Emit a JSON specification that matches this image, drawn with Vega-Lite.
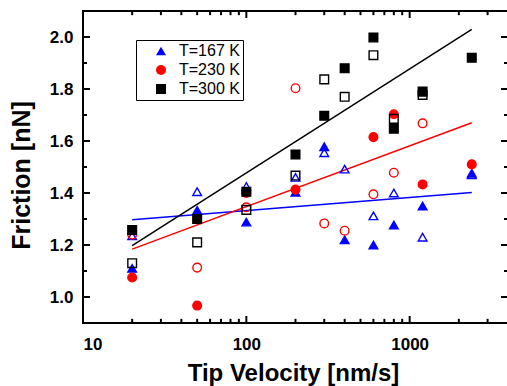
{
  "$schema": "https://vega.github.io/schema/vega-lite/v6.json",
  "width": 425,
  "height": 312,
  "autosize": {"type": "none"},
  "padding": {"left": 83, "top": 11, "right": 0, "bottom": 63},
  "background": "white",
  "view": {"stroke": "black", "strokeWidth": 2},
  "config": {
    "font": "Liberation Sans",
    "axis": {"grid": false, "labelColor": "black", "titleColor": "black"}
  },
  "datasets": {
    "points": [
      {"T": "T=167 K", "type": "filled", "v": 20, "f": 1.11},
      {"T": "T=167 K", "type": "filled", "v": 50, "f": 1.333},
      {"T": "T=167 K", "type": "filled", "v": 100, "f": 1.288},
      {"T": "T=167 K", "type": "filled", "v": 200, "f": 1.403},
      {"T": "T=167 K", "type": "filled", "v": 300, "f": 1.578},
      {"T": "T=167 K", "type": "filled", "v": 400, "f": 1.22},
      {"T": "T=167 K", "type": "filled", "v": 600, "f": 1.2},
      {"T": "T=167 K", "type": "filled", "v": 800, "f": 1.277},
      {"T": "T=167 K", "type": "filled", "v": 1200, "f": 1.35},
      {"T": "T=167 K", "type": "filled", "v": 2400, "f": 1.476},
      {"T": "T=167 K", "type": "open", "v": 20, "f": 1.235},
      {"T": "T=167 K", "type": "open", "v": 50, "f": 1.405},
      {"T": "T=167 K", "type": "open", "v": 100, "f": 1.425},
      {"T": "T=167 K", "type": "open", "v": 200, "f": 1.46},
      {"T": "T=167 K", "type": "open", "v": 300, "f": 1.555},
      {"T": "T=167 K", "type": "open", "v": 400, "f": 1.492},
      {"T": "T=167 K", "type": "open", "v": 600, "f": 1.312},
      {"T": "T=167 K", "type": "open", "v": 800, "f": 1.4},
      {"T": "T=167 K", "type": "open", "v": 1200, "f": 1.23},
      {"T": "T=167 K", "type": "open", "v": 2400, "f": 1.47},
      {"T": "T=230 K", "type": "filled", "v": 20, "f": 1.075},
      {"T": "T=230 K", "type": "filled", "v": 50, "f": 0.967},
      {"T": "T=230 K", "type": "filled", "v": 100, "f": 1.4},
      {"T": "T=230 K", "type": "filled", "v": 200, "f": 1.413},
      {"T": "T=230 K", "type": "filled", "v": 600, "f": 1.615},
      {"T": "T=230 K", "type": "filled", "v": 800, "f": 1.703},
      {"T": "T=230 K", "type": "filled", "v": 1200, "f": 1.433},
      {"T": "T=230 K", "type": "filled", "v": 2400, "f": 1.51},
      {"T": "T=230 K", "type": "open", "v": 20, "f": 1.24},
      {"T": "T=230 K", "type": "open", "v": 50, "f": 1.113},
      {"T": "T=230 K", "type": "open", "v": 100, "f": 1.345},
      {"T": "T=230 K", "type": "open", "v": 200, "f": 1.803},
      {"T": "T=230 K", "type": "open", "v": 300, "f": 1.283},
      {"T": "T=230 K", "type": "open", "v": 400, "f": 1.255},
      {"T": "T=230 K", "type": "open", "v": 600, "f": 1.395},
      {"T": "T=230 K", "type": "open", "v": 800, "f": 1.478},
      {"T": "T=230 K", "type": "open", "v": 1200, "f": 1.668},
      {"T": "T=300 K", "type": "filled", "v": 20, "f": 1.258},
      {"T": "T=300 K", "type": "filled", "v": 50, "f": 1.3},
      {"T": "T=300 K", "type": "filled", "v": 100, "f": 1.405},
      {"T": "T=300 K", "type": "filled", "v": 200, "f": 1.548},
      {"T": "T=300 K", "type": "filled", "v": 300, "f": 1.697},
      {"T": "T=300 K", "type": "filled", "v": 400, "f": 1.88},
      {"T": "T=300 K", "type": "filled", "v": 600, "f": 1.998},
      {"T": "T=300 K", "type": "filled", "v": 800, "f": 1.647},
      {"T": "T=300 K", "type": "filled", "v": 1200, "f": 1.79},
      {"T": "T=300 K", "type": "filled", "v": 2400, "f": 1.92},
      {"T": "T=300 K", "type": "open", "v": 20, "f": 1.13},
      {"T": "T=300 K", "type": "open", "v": 50, "f": 1.21},
      {"T": "T=300 K", "type": "open", "v": 100, "f": 1.335},
      {"T": "T=300 K", "type": "open", "v": 200, "f": 1.467},
      {"T": "T=300 K", "type": "open", "v": 300, "f": 1.837},
      {"T": "T=300 K", "type": "open", "v": 400, "f": 1.77},
      {"T": "T=300 K", "type": "open", "v": 600, "f": 1.93},
      {"T": "T=300 K", "type": "open", "v": 800, "f": 1.685},
      {"T": "T=300 K", "type": "open", "v": 1200, "f": 1.777}
    ],
    "fits": [
      {"T": "T=167 K", "v": 20, "f": 1.297},
      {"T": "T=167 K", "v": 2400, "f": 1.402},
      {"T": "T=230 K", "v": 20, "f": 1.184},
      {"T": "T=230 K", "v": 2400, "f": 1.67},
      {"T": "T=300 K", "v": 20, "f": 1.198},
      {"T": "T=300 K", "v": 2400, "f": 2.029}
    ],
    "xt": [
      {"t": 10, "kind": "major"}, {"t": 100, "kind": "major"}, {"t": 1000, "kind": "major"},
      {"t": 20, "kind": "minor"}, {"t": 30, "kind": "minor"}, {"t": 40, "kind": "minor"}, {"t": 50, "kind": "minor"},
      {"t": 60, "kind": "minor"}, {"t": 70, "kind": "minor"}, {"t": 80, "kind": "minor"}, {"t": 90, "kind": "minor"},
      {"t": 200, "kind": "minor"}, {"t": 300, "kind": "minor"}, {"t": 400, "kind": "minor"}, {"t": 500, "kind": "minor"},
      {"t": 600, "kind": "minor"}, {"t": 700, "kind": "minor"}, {"t": 800, "kind": "minor"}, {"t": 900, "kind": "minor"},
      {"t": 2000, "kind": "minor"}, {"t": 3000, "kind": "minor"}
    ],
    "yt": [
      {"t": 1.0, "kind": "major"}, {"t": 1.2, "kind": "major"}, {"t": 1.4, "kind": "major"},
      {"t": 1.6, "kind": "major"}, {"t": 1.8, "kind": "major"}, {"t": 2.0, "kind": "major"},
      {"t": 1.1, "kind": "minor"}, {"t": 1.3, "kind": "minor"}, {"t": 1.5, "kind": "minor"},
      {"t": 1.7, "kind": "minor"}, {"t": 1.9, "kind": "minor"}
    ]
  },
  "layer": [
    {
      "data": {"name": "xt"},
      "transform": [{"filter": "datum.kind == 'major'"}],
      "mark": {"type": "rule", "strokeWidth": 2, "color": "black"},
      "encoding": {
        "x": {"field": "t", "type": "quantitative", "scale": {"type": "log", "domain": [10, 4000], "nice": false}, "axis": null},
        "y": {"datum": 0.9, "type": "quantitative", "scale": {"domain": [0.9, 2.1], "nice": false, "zero": false}, "axis": null},
        "y2": {"datum": 0.927}
      }
    },
    {
      "data": {"name": "xt"},
      "transform": [{"filter": "datum.kind == 'minor'"}],
      "mark": {"type": "rule", "strokeWidth": 2, "color": "black"},
      "encoding": {
        "x": {"field": "t", "type": "quantitative", "scale": {"type": "log", "domain": [10, 4000], "nice": false}, "axis": null},
        "y": {"datum": 0.9, "type": "quantitative", "scale": {"domain": [0.9, 2.1], "nice": false, "zero": false}, "axis": null},
        "y2": {"datum": 0.916}
      }
    },
    {
      "data": {"name": "xt"},
      "transform": [{"filter": "datum.kind == 'major'"}],
      "mark": {"type": "rule", "strokeWidth": 2, "color": "black"},
      "encoding": {
        "x": {"field": "t", "type": "quantitative", "scale": {"type": "log", "domain": [10, 4000], "nice": false}, "axis": null},
        "y": {"datum": 2.1, "type": "quantitative", "scale": {"domain": [0.9, 2.1], "nice": false, "zero": false}, "axis": null},
        "y2": {"datum": 2.073}
      }
    },
    {
      "data": {"name": "xt"},
      "transform": [{"filter": "datum.kind == 'minor'"}],
      "mark": {"type": "rule", "strokeWidth": 2, "color": "black"},
      "encoding": {
        "x": {"field": "t", "type": "quantitative", "scale": {"type": "log", "domain": [10, 4000], "nice": false}, "axis": null},
        "y": {"datum": 2.1, "type": "quantitative", "scale": {"domain": [0.9, 2.1], "nice": false, "zero": false}, "axis": null},
        "y2": {"datum": 2.084}
      }
    },
    {
      "data": {"name": "yt"},
      "transform": [{"filter": "datum.kind == 'major'"}],
      "mark": {"type": "rule", "strokeWidth": 2, "color": "black"},
      "encoding": {
        "y": {"field": "t", "type": "quantitative", "scale": {"domain": [0.9, 2.1], "nice": false, "zero": false}, "axis": null},
        "x": {"datum": 10, "type": "quantitative", "scale": {"type": "log", "domain": [10, 4000], "nice": false}, "axis": null},
        "x2": {"datum": 11.04}
      }
    },
    {
      "data": {"name": "yt"},
      "transform": [{"filter": "datum.kind == 'minor'"}],
      "mark": {"type": "rule", "strokeWidth": 2, "color": "black"},
      "encoding": {
        "y": {"field": "t", "type": "quantitative", "scale": {"domain": [0.9, 2.1], "nice": false, "zero": false}, "axis": null},
        "x": {"datum": 10, "type": "quantitative", "scale": {"type": "log", "domain": [10, 4000], "nice": false}, "axis": null},
        "x2": {"datum": 10.58}
      }
    },
    {
      "data": {"name": "yt"},
      "transform": [{"filter": "datum.kind == 'major'"}],
      "mark": {"type": "rule", "strokeWidth": 2, "color": "black"},
      "encoding": {
        "y": {"field": "t", "type": "quantitative", "scale": {"domain": [0.9, 2.1], "nice": false, "zero": false}, "axis": null},
        "x": {"datum": 4000, "type": "quantitative", "scale": {"type": "log", "domain": [10, 4000], "nice": false}, "axis": null},
        "x2": {"datum": 3623}
      }
    },
    {
      "data": {"name": "yt"},
      "transform": [{"filter": "datum.kind == 'minor'"}],
      "mark": {"type": "rule", "strokeWidth": 2, "color": "black"},
      "encoding": {
        "y": {"field": "t", "type": "quantitative", "scale": {"domain": [0.9, 2.1], "nice": false, "zero": false}, "axis": null},
        "x": {"datum": 4000, "type": "quantitative", "scale": {"type": "log", "domain": [10, 4000], "nice": false}, "axis": null},
        "x2": {"datum": 3781}
      }
    },
    {
      "data": {"name": "fits"},
      "mark": {"type": "line", "strokeWidth": 1.5},
      "encoding": {
        "x": {"field": "v", "type": "quantitative", "scale": {"type": "log", "domain": [10, 4000], "nice": false}, "axis": null},
        "y": {"field": "f", "type": "quantitative", "scale": {"domain": [0.9, 2.1], "nice": false, "zero": false}, "axis": null},
        "color": {"field": "T", "type": "nominal", "legend": null,
                  "scale": {"domain": ["T=167 K", "T=230 K", "T=300 K"], "range": ["#0000ff", "#ff0000", "#000000"]}},
        "detail": {"field": "T"}
      }
    },
    {
      "data": {"name": "points"},
      "mark": {"type": "point", "filled": true, "opacity": 1, "size": 75, "strokeWidth": 1.4},
      "encoding": {
        "x": {"field": "v", "type": "quantitative", "scale": {"type": "log", "domain": [10, 4000], "nice": false},
              "axis": {"orient": "bottom", "values": [10, 100, 1000], "format": "d", "ticks": false, "tickSize": 0, "domain": false, "labelPadding": 13, "labelFontSize": 17, "labelFontWeight": "bold",
                       "title": "Tip Velocity [nm/s]", "titleFontSize": 24, "titleFontWeight": "bold", "titleBaseline": "alphabetic", "titleX": 210, "titleY": 57, "titleAlign": "center"}},
        "y": {"field": "f", "type": "quantitative", "scale": {"domain": [0.9, 2.1], "nice": false, "zero": false},
              "axis": {"orient": "left", "values": [1.0, 1.2, 1.4, 1.6, 1.8, 2.0], "format": ".1f", "ticks": false, "tickSize": 0, "domain": false, "labelPadding": 10, "labelFontSize": 17, "labelFontWeight": "bold",
                       "title": "Friction [nN]", "titleFontSize": 25, "titleFontWeight": "bold", "titleBaseline": "alphabetic", "titleX": -54, "titleY": 164, "titleAlign": "center", "titleAngle": -90}},
        "color": {"field": "T", "type": "nominal",
                  "scale": {"domain": ["T=167 K", "T=230 K", "T=300 K"], "range": ["#0000ff", "#ff0000", "#000000"]},
                  "legend": {"title": null, "orient": "none", "legendX": 53, "legendY": 29, "strokeColor": "black", "fillColor": "white", "padding": 3,
                             "labelFontSize": 16, "labelFont": "Liberation Sans", "labelColor": "black", "symbolSize": 100, "symbolOffset": 14, "labelOffset": 10, "rowPadding": 3, "symbolStrokeWidth": 0, "symbolOpacity": 1}},
        "shape": {"field": "T", "type": "nominal",
                  "scale": {"domain": ["T=167 K", "T=230 K", "T=300 K"], "range": ["triangle-up", "circle", "square"]}},
        "stroke": {"field": "T", "type": "nominal", "legend": null,
                   "scale": {"domain": ["T=167 K", "T=230 K", "T=300 K"], "range": ["#0000ff", "#ff0000", "#000000"]}},
        "fillOpacity": {"field": "type", "type": "nominal", "legend": null, "scale": {"domain": ["filled", "open"], "range": [1, 0]}}
      }
    }
  ],
  "resolve": {"axis": {"x": "independent", "y": "independent"}, "legend": {"color": "independent", "shape": "independent", "stroke": "independent", "fillOpacity": "independent"}}
}
